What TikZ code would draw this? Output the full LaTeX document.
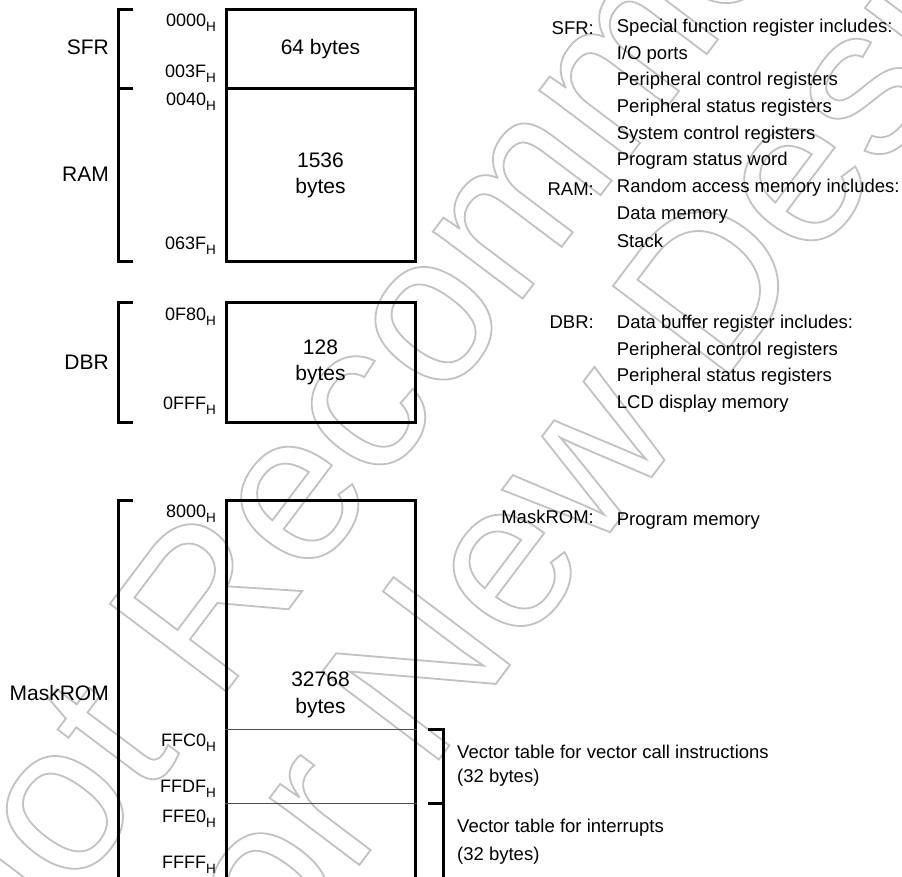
\documentclass[tikz,border=0pt]{standalone}
\usepackage{fontspec}
\setmainfont{Liberation Sans}
\definecolor{wmgray}{gray}{0.76}
\definecolor{thingray}{gray}{0.3}
\newcommand\lblfont{\fontsize{21}{26.5}\selectfont}
\newcommand\dscfont{\fontsize{18.5}{26.7}\selectfont}
\newcommand\adrfont{\fontsize{18}{20}\selectfont}
\newcommand\hexaddr[1]{#1\raisebox{-5pt}{\fontsize{13.5}{13.5}\selectfont H}}
\newcommand\wmon{\special{pdf:literal direct 1 Tr 1.8 w}}
\newcommand\wmoff{\special{pdf:literal direct 0 Tr}}
\begin{document}
\begin{tikzpicture}[x=1pt,y=-1pt,
  membox/.style={draw, line width=3pt, minimum width=189pt, inner sep=0pt, align=center, font=\lblfont},
  brk/.style={line width=3pt},
  thinsep/.style={line width=0.9pt, draw=thingray},
  lbl/.style={anchor=base east, inner sep=0pt, font=\lblfont},
  adr/.style={anchor=base east, inner sep=0pt, font=\adrfont},
  dsc/.style={anchor=base west, inner sep=0pt, font=\dscfont},
  dsclbl/.style={anchor=base east, inner sep=0pt, font=\dscfont},
  wm/.style={inner sep=0pt, text=wmgray, rotate=53, font=\fontsize{212}{212}\selectfont}]
\fill[white] (0,0) rectangle (902,877);
\useasboundingbox (0,0) rectangle (902,877);

% watermark
\node[wm, anchor=base west] (wm1) at (-18,1016) {\wmon Not Recommended\wmoff};
\node[wm, anchor=base west] (wm2) at (244,1018) {\wmon for New Design\wmoff};

% memory boxes
\node[membox, minimum height=79pt] (sfr) at (320.5,49.5) {64 bytes};
\node[membox, minimum height=173pt] (ram) at (320.5,175.5) {1536\\bytes};
\node[membox, minimum height=119pt] (dbr) at (320.5,362.5) {128\\bytes};
\node[membox, minimum height=400pt] (rom) at (320.5,700) {};
\node[anchor=north, inner sep=0pt, align=center, font=\lblfont] (romtxt) at (320.5,671.7) {32768\\bytes};

% separators inside the ROM box
\coordinate (s1) at (0,729);
\coordinate (s2) at (0,803);
\draw[thinsep] (rom.west |- s1) -- (rom.east |- s1);
\draw[thinsep] (rom.west |- s2) -- (rom.east |- s2);

% left brackets
\draw[brk] (133,10) -- (118,10) -- (118,262) -- (133,262);
\draw[brk] (118,89) -- (133,89);
\draw[brk] (133,303) -- (118,303) -- (118,422) -- (133,422);
\draw[brk] (133,500) -- (118,500) -- (118,900);

% right bracket
\draw[brk] (428,729) -- (443,729) -- (443,900);
\draw[brk] (428,803) -- (443,803);

% left labels
\node[lbl] (lsfr) at (109,55) {SFR};
\node[lbl] (lram) at (109,181.7) {RAM};
\node[lbl] (ldbr) at (109,369) {DBR};
\node[lbl] (lrom) at (109,700.7) {MaskROM};

% addresses
\node[adr] (a1) at (216,26.7) {\hexaddr{0000}};
\node[adr] (a2) at (216,77.3) {\hexaddr{003F}};
\node[adr] (a3) at (216,106) {\hexaddr{0040}};
\node[adr] (a4) at (216,249.3) {\hexaddr{063F}};
\node[adr] (a5) at (216,320) {\hexaddr{0F80}};
\node[adr] (a6) at (216,409.3) {\hexaddr{0FFF}};
\node[adr] (a7) at (216,517.3) {\hexaddr{8000}};
\node[adr] (a8) at (216,746.7) {\hexaddr{FFC0}};
\node[adr] (a9) at (216,792.7) {\hexaddr{FFDF}};
\node[adr] (a10) at (216,822.7) {\hexaddr{FFE0}};
\node[adr] (a11) at (216,868.3) {\hexaddr{FFFF}};

% descriptions
\node[dsclbl] (dsfr) at (594,35) {SFR:};
\node[dsc] (t1) at (616.7,32.3) {Special function register includes:};
\node[dsc] (t2) at (616.7,59.3) {I/O ports};
\node[dsc] (t3) at (616.7,86) {Peripheral control registers};
\node[dsc] (t4) at (616.7,112.7) {Peripheral status registers};
\node[dsc] (t5) at (616.7,139.3) {System control registers};
\node[dsc] (t6) at (616.7,166) {Program status word};
\node[dsclbl] (dram) at (594,196) {RAM:};
\node[dsc] (t7) at (616.7,192.7) {Random access memory includes:};
\node[dsc] (t8) at (616.7,219.3) {Data memory};
\node[dsc] (t9) at (616.7,247.3) {Stack};

\node[dsclbl] (ddbr) at (594,328.3) {DBR:};
\node[dsc] (t10) at (616.7,328.3) {Data buffer register includes:};
\node[dsc] (t11) at (616.7,355) {Peripheral control registers};
\node[dsc] (t12) at (616.7,381) {Peripheral status registers};
\node[dsc] (t13) at (616.7,408.3) {LCD display memory};

\node[dsclbl] (drom) at (594,523.3) {MaskROM:};
\node[dsc] (t14) at (616.7,525) {Program memory};

\node[dsc] (v1) at (457,758.3) {Vector table for vector call instructions};
\node[dsc] (v2) at (457,782.7) {(32 bytes)};
\node[dsc] (v3) at (457,832.3) {Vector table for interrupts};
\node[dsc] (v4) at (457,860) {(32 bytes)};
\end{tikzpicture}
\end{document}
